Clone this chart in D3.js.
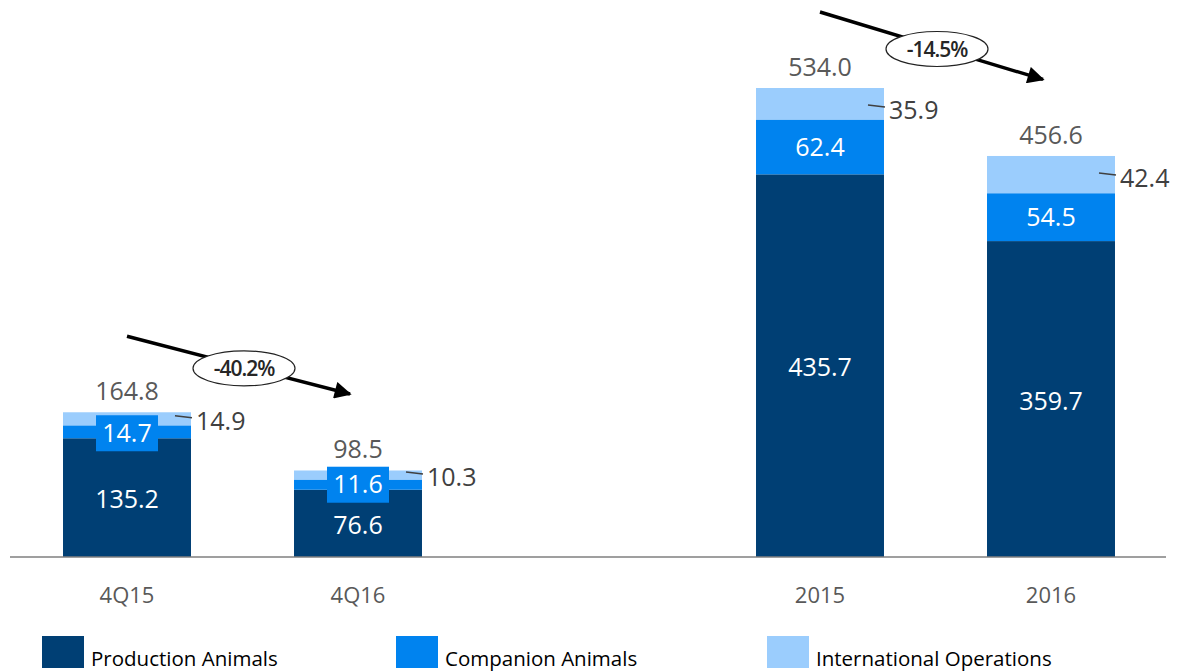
<!DOCTYPE html>
<html>
<head>
<meta charset="utf-8">
<script src="https://cdn.jsdelivr.net/npm/d3@7"></script>
<style>
body{margin:0;background:#fff;}
svg{display:block;}
</style>
</head>
<body>
<div id="chart"></div>
<script>
// periods, with an empty slot between the quarters and the years
var periods=["4Q15","4Q16","gap","2015","2016"];
var production=[135.2,76.6,0,435.7,359.7];
var companion=[14.7,11.6,0,62.4,54.5];
var international=[14.9,10.3,0,35.9,42.4];
var totals=[164.8,98.5,0,534.0,456.6];
var seriesNames=["Production Animals","Companion Animals","International Operations"];
var seriesColors=["#003f74","#0083ef","#9bcdfd"];
var changes=[{from:"4Q15",to:"4Q16",label:"-40.2%"},{from:"2015",to:"2016",label:"-14.5%"}];

var width=1181,height=671;
var svg=d3.select("#chart").append("svg").attr("width",width).attr("height",height);

var x=d3.scaleBand().domain(periods).range([11.5,1166.5]).paddingInner(0.446).paddingOuter(0.223);
var y=d3.scaleLinear().domain([0,534]).range([557,88]);
var bw=x.bandwidth();

var rows=periods.map(function(p,i){
	return {period:p,production:production[i],companion:companion[i],international:international[i],total:totals[i]};
}).filter(function(d){return d.period!=="gap";});

var stack=d3.stack().keys(["production","companion","international"]);
var layers=stack(rows);

svg.selectAll("g.layer").data(layers).enter().append("g")
	.attr("class","layer")
	.attr("fill",function(d,i){return seriesColors[i];})
	.selectAll("rect").data(function(d){return d;}).enter().append("rect")
	.attr("x",function(d){return x(d.data.period);})
	.attr("y",function(d){return y(d[1]);})
	.attr("width",bw)
	.attr("height",function(d){return y(d[0])-y(d[1]);});

// baseline
svg.append("line").attr("x1",10).attr("x2",1166).attr("y1",y(0)).attr("y2",y(0))
	.attr("stroke","#7f7f7f").attr("stroke-width",1.5);

var font="Open Sans, sans-serif";

// category labels
var xAxis=d3.axisBottom(x).tickValues(periods.filter(function(p){return p!=="gap";})).tickSize(0).tickPadding(30);
var gx=svg.append("g").attr("transform","translate(0,"+y(0)+")").call(xAxis);
gx.select(".domain").remove();
gx.selectAll("text").attr("font-family",font).attr("font-size",22).attr("fill","#595959");

var cx=function(p){return x(p)+bw/2;};

// production values
svg.selectAll("text.prod").data(rows).enter().append("text")
	.attr("x",function(d){return cx(d.period);})
	.attr("y",function(d){return (y(0)+y(d.production))/2+2;})
	.attr("dy","0.35em").attr("text-anchor","middle")
	.attr("font-family",font).attr("font-size",25).attr("fill","#fff")
	.text(function(d){return d.production.toFixed(1);});

// companion values, with a box where the segment is too thin
rows.forEach(function(d){
	var top=y(d.production+d.companion),bot=y(d.production);
	var mid=(top+bot)/2;
	var g=svg.append("g");
	if(bot-top<30){
		mid=bot-5;
		g.append("rect").attr("x",cx(d.period)-31).attr("y",mid-18).attr("width",62).attr("height",36)
			.attr("fill",seriesColors[1]);
	}
	g.append("text").attr("x",cx(d.period)).attr("y",mid).attr("dy","0.35em")
		.attr("text-anchor","middle").attr("font-family",font).attr("font-size",25).attr("fill","#fff")
		.text(d.companion.toFixed(1));
});

// international values, outside with a leader
rows.forEach(function(d){
	var top=y(d.total),bot=y(d.production+d.companion);
	var big=bot-top>20;
	var ly=big?top+18:(top+bot)/2-2;
	var xr=x(d.period)+bw;
	svg.append("line").attr("x1",xr-16).attr("x2",xr+1).attr("y1",ly-1).attr("y2",ly+1)
		.attr("stroke","#404040").attr("stroke-width",1.5);
	svg.append("text").attr("x",xr+5).attr("y",ly+4).attr("dy","0.35em")
		.attr("font-family",font).attr("font-size",25).attr("fill","#404040")
		.text(d.international.toFixed(1));
});

// totals
svg.selectAll("text.total").data(rows).enter().append("text")
	.attr("x",function(d){return cx(d.period);})
	.attr("y",function(d){return y(d.total)-12;})
	.attr("text-anchor","middle")
	.attr("font-family",font).attr("font-size",25).attr("fill","#595959")
	.text(function(d){return d.total.toFixed(1);});

// change arrows
svg.append("defs").append("marker").attr("id","head")
	.attr("viewBox","0 0 10 10").attr("refX",9).attr("refY",5)
	.attr("markerWidth",6).attr("markerHeight",5).attr("orient","auto")
	.attr("markerUnits","strokeWidth")
	.append("path").attr("d","M0,0L10,5L0,10z").attr("fill","#000");

changes.forEach(function(c){
	var a=rows.find(function(d){return d.period===c.from;});
	var b=rows.find(function(d){return d.period===c.to;});
	var x1=cx(c.from),y1=y(a.total)-76,x2=cx(c.to),y2=y(b.total)-74;
	svg.append("line").attr("x1",x1).attr("y1",y1).attr("x2",x2-8).attr("y2",y2-2.5)
		.attr("stroke","#000").attr("stroke-width",3.4).attr("marker-end","url(#head)");
	var mx=(x1+x2)/2+1.5,my=(y1+y2)/2+2;
	svg.append("ellipse").attr("cx",mx).attr("cy",my).attr("rx",51).attr("ry",17.5)
		.attr("fill","#fff").attr("stroke","#222").attr("stroke-width",1.2);
	svg.append("text").attr("x",mx).attr("y",my).attr("dy","0.36em").attr("text-anchor","middle")
		.attr("font-family",font).attr("font-size",21).attr("font-weight",600).attr("fill","#262626")
		.attr("letter-spacing",-1)
		.text(c.label);
});

// legend
var legendX=[42,396,767];
var lg=svg.selectAll("g.legend").data(seriesNames).enter().append("g")
	.attr("transform",function(d,i){return "translate("+legendX[i]+",636)";});
lg.append("rect").attr("width",42).attr("height",32).attr("fill",function(d,i){return seriesColors[i];});
lg.append("text").attr("x",49).attr("y",30).attr("font-family",font)
	.attr("font-size",20.5).attr("fill","#000").text(function(d){return d;});
</script>
</body>
</html>
